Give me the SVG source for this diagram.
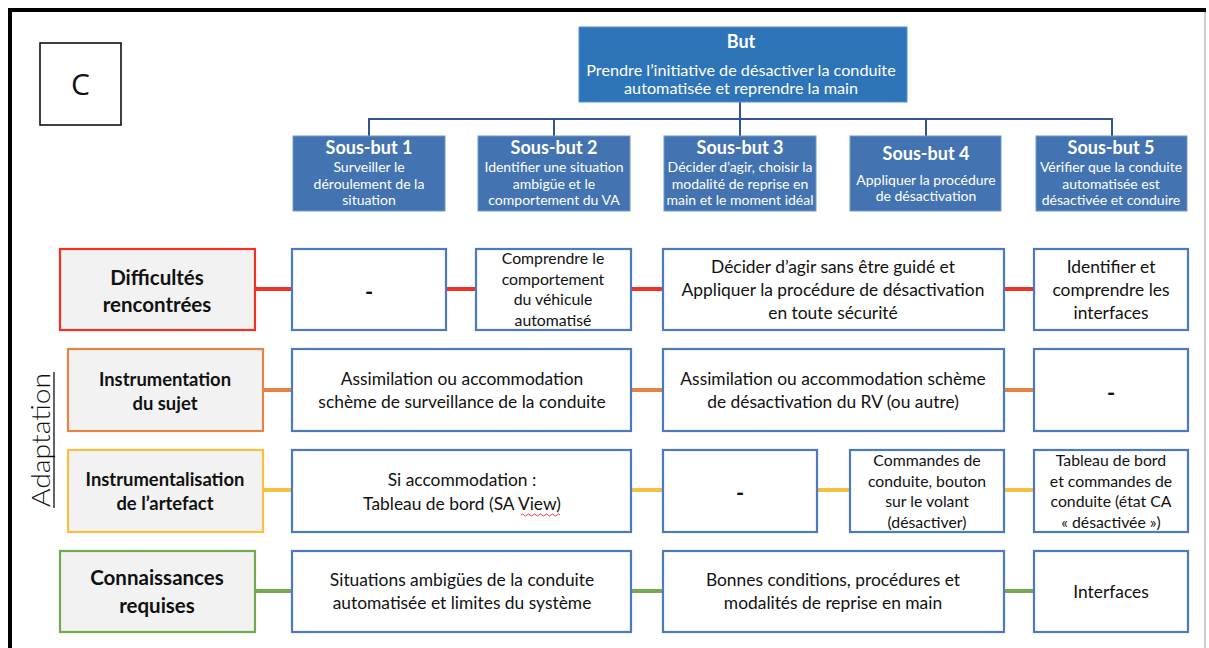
<svg xmlns="http://www.w3.org/2000/svg" width="1209" height="648" viewBox="0 0 1209 648">
<style>
text{font-family:Lato,"Open Sans","Liberation Sans",sans-serif;text-anchor:middle;fill:#111}
.w{fill:#fff}
.b{font-weight:700}
.goal{fill:#2E74B8;stroke:#5B8FCB;stroke-width:1}
.sub{fill:#4374B1;stroke:#6F98CC;stroke-width:1}
.box{fill:#fff;stroke:#4B7BBE;stroke-width:2.2}
.lab{fill:#F2F2F2;stroke-width:2.2}
.t16{font-size:16.2px}
.t15{font-size:17.4px}
.t14{font-size:15.8px}
.t12{font-size:14px}
.hdr{font-size:18px;font-weight:700}
.lb1{font-size:20.5px;font-weight:700}
.lb2{font-size:18.4px;font-weight:700}
.dash{font-size:22px;font-weight:700}
.conn line{stroke-width:4}
</style>
<rect x="0" y="0" width="1209" height="648" fill="#fff"/>
<!-- frame -->
<line x1="10" y1="10" x2="1206" y2="10" stroke="#000" stroke-width="4"/>
<line x1="10" y1="8" x2="10" y2="648" stroke="#000" stroke-width="4"/>
<line x1="1205" y1="12" x2="1205" y2="648" stroke="#BDBDBD" stroke-width="1.5"/>

<g id="label-c">
<rect x="40" y="43" width="81" height="82" fill="#fff" stroke="#111" stroke-width="1.6"/>
<text x="80.5" y="95" style="font-size:30px;font-family:'Open Sans',Lato,sans-serif">C</text>
</g>

<g id="adaptation">
<text transform="translate(50,440) rotate(-90)" style="font-size:26px;font-weight:300" textLength="134" lengthAdjust="spacingAndGlyphs">Adaptation</text>
<line x1="54" y1="372" x2="54" y2="508" stroke="#111" stroke-width="1.3"/>
</g>

<!-- connectors -->
<g id="connectors" fill="none">
<g stroke="#2F5597" stroke-width="2">
<line x1="740" y1="102" x2="740" y2="136"/>
<polyline points="369,136 369,119 1112,119 1112,136"/>
<line x1="554" y1="119" x2="554" y2="136"/>
<line x1="926" y1="119" x2="926" y2="136"/>
</g>
<g class="conn">
<g stroke="#EE3325">
<line x1="255" y1="289" x2="292" y2="289"/>
<line x1="446" y1="289" x2="476" y2="289"/>
<line x1="631" y1="289" x2="663" y2="289"/>
<line x1="1004" y1="289" x2="1034" y2="289"/>
</g>
<g stroke="#E38346">
<line x1="263" y1="390" x2="292" y2="390"/>
<line x1="631" y1="390" x2="663" y2="390"/>
<line x1="1004" y1="390" x2="1034" y2="390"/>
</g>
<g stroke="#F8C040">
<line x1="263" y1="490" x2="292" y2="490"/>
<line x1="631" y1="490" x2="663" y2="490"/>
<line x1="817" y1="490" x2="850" y2="490"/>
<line x1="1004" y1="490" x2="1034" y2="490"/>
</g>
<g stroke="#74AA4E">
<line x1="255" y1="591" x2="292" y2="591"/>
<line x1="631" y1="591" x2="663" y2="591"/>
<line x1="1004" y1="591" x2="1034" y2="591"/>
</g>
</g>
</g>

<!-- goal -->
<g id="but">
<rect class="goal" x="579" y="27" width="328" height="75"/>
<text class="w hdr" x="741" y="48">But</text>
<text class="w t16" x="741" y="76">Prendre l’initiative de désactiver la conduite</text>
<text class="w t16" x="741" y="94">automatisée et reprendre la main</text>
</g>

<g id="sousbut1">
<rect class="sub" x="293" y="136" width="152" height="75"/>
<text class="w hdr" x="369" y="153.5">Sous-but 1</text>
<text class="w t12" x="369" y="172">Surveiller le</text>
<text class="w t12" x="369" y="188.5">déroulement de la</text>
<text class="w t12" x="369" y="205">situation</text>
</g>
<g id="sousbut2">
<rect class="sub" x="478" y="136" width="152" height="75"/>
<text class="w hdr" x="554" y="153.5">Sous-but 2</text>
<text class="w t12" x="554" y="172">Identifier une situation</text>
<text class="w t12" x="554" y="188.5">ambigüe et le</text>
<text class="w t12" x="554" y="205">comportement du VA</text>
</g>
<g id="sousbut3">
<rect class="sub" x="664" y="136" width="152" height="75"/>
<text class="w hdr" x="740" y="153.5">Sous-but 3</text>
<text class="w t12" x="740" y="172">Décider d’agir, choisir la</text>
<text class="w t12" x="740" y="188.5">modalité de reprise en</text>
<text class="w t12" x="740" y="205">main et le moment idéal</text>
</g>
<g id="sousbut4">
<rect class="sub" x="850" y="136" width="151" height="75"/>
<text class="w hdr" x="926" y="159.5">Sous-but 4</text>
<text class="w t12" x="926" y="185">Appliquer la procédure</text>
<text class="w t12" x="926" y="201">de désactivation</text>
</g>
<g id="sousbut5">
<rect class="sub" x="1036" y="136" width="151" height="75"/>
<text class="w hdr" x="1111" y="153.5">Sous-but 5</text>
<text class="w t12" x="1111" y="172">Vérifier que la conduite</text>
<text class="w t12" x="1111" y="188.5">automatisée est</text>
<text class="w t12" x="1111" y="205">désactivée et conduire</text>
</g>

<!-- row 1 -->
<g id="difficultes">
<rect class="lab" x="60" y="249" width="195" height="81" stroke="#EE3325"/>
<text class="lb1" x="157" y="285">Difficultés</text>
<text class="lb1" x="157" y="312">rencontrées</text>
</g>
<g id="d1">
<rect class="box" x="292" y="249" width="154" height="81"/>
<text class="dash" x="369" y="300">-</text>
</g>
<g id="d2">
<rect class="box" x="476" y="249" width="155" height="81"/>
<text class="t14" x="553" y="264">Comprendre le</text>
<text class="t14" x="553" y="285">comportement</text>
<text class="t14" x="553" y="305">du véhicule</text>
<text class="t14" x="553" y="326">automatisé</text>
</g>
<g id="d3">
<rect class="box" x="663" y="249" width="341" height="81"/>
<text class="t15" x="833" y="273">Décider d’agir sans être guidé et</text>
<text class="t15" x="833" y="296">Appliquer la procédure de désactivation</text>
<text class="t15" x="833" y="319">en toute sécurité</text>
</g>
<g id="d4">
<rect class="box" x="1034" y="249" width="154" height="81"/>
<text class="t15" x="1111" y="273">Identifier et</text>
<text class="t15" x="1111" y="296">comprendre les</text>
<text class="t15" x="1111" y="319">interfaces</text>
</g>

<!-- row 2 -->
<g id="instrumentation">
<rect class="lab" x="68" y="349" width="195" height="82" stroke="#E38346"/>
<text class="lb2" x="165" y="386">Instrumentation</text>
<text class="lb2" x="165" y="410">du sujet</text>
</g>
<g id="i1">
<rect class="box" x="292" y="349" width="339" height="82"/>
<text class="t15" x="462" y="385">Assimilation ou accommodation</text>
<text class="t15" x="462" y="408">schème de surveillance de la conduite</text>
</g>
<g id="i2">
<rect class="box" x="663" y="349" width="341" height="82"/>
<text class="t15" x="833" y="385">Assimilation ou accommodation schème</text>
<text class="t15" x="833" y="408">de désactivation du RV (ou autre)</text>
</g>
<g id="i3">
<rect class="box" x="1034" y="349" width="154" height="82"/>
<text class="dash" x="1111" y="401">-</text>
</g>

<!-- row 3 -->
<g id="instrumentalisation">
<rect class="lab" x="68" y="450" width="195" height="82" stroke="#F8C040"/>
<text class="lb2" x="165" y="486">Instrumentalisation</text>
<text class="lb2" x="165" y="510">de l’artefact</text>
</g>
<g id="a1">
<rect class="box" x="292" y="450" width="339" height="82"/>
<text class="t15" x="462" y="486">Si accommodation :</text>
<text class="t15" x="462" y="510">Tableau de bord (SA View)</text>
<path d="M521,515 q1.5,-2 3,0 t3,0 t3,0 t3,0 t3,0 t3,0 t3,0 t3,0 t3,0 t3,0 t3,0 t3,0 t3,0" fill="none" stroke="#E03030" stroke-width="0.9"/>
</g>
<g id="a2">
<rect class="box" x="663" y="450" width="154" height="82"/>
<text class="dash" x="740" y="501">-</text>
</g>
<g id="a3">
<rect class="box" x="850" y="450" width="154" height="82"/>
<text class="t14" x="927" y="466">Commandes de</text>
<text class="t14" x="927" y="487">conduite, bouton</text>
<text class="t14" x="927" y="507">sur le volant</text>
<text class="t14" x="927" y="528">(désactiver)</text>
</g>
<g id="a4">
<rect class="box" x="1034" y="450" width="154" height="82"/>
<text class="t14" x="1111" y="466">Tableau de bord</text>
<text class="t14" x="1111" y="487">et commandes de</text>
<text class="t14" x="1111" y="507">conduite (état CA</text>
<text class="t14" x="1111" y="528">« désactivée »)</text>
</g>

<!-- row 4 -->
<g id="connaissances">
<rect class="lab" x="60" y="551" width="195" height="81" stroke="#74AA4E"/>
<text class="lb1" x="157" y="585">Connaissances</text>
<text class="lb1" x="157" y="613">requises</text>
</g>
<g id="c1">
<rect class="box" x="292" y="551" width="339" height="81"/>
<text class="t15" x="462" y="586">Situations ambigües de la conduite</text>
<text class="t15" x="462" y="609">automatisée et limites du système</text>
</g>
<g id="c2">
<rect class="box" x="663" y="551" width="341" height="81"/>
<text class="t15" x="833" y="586">Bonnes conditions, procédures et</text>
<text class="t15" x="833" y="609">modalités de reprise en main</text>
</g>
<g id="c3">
<rect class="box" x="1034" y="551" width="154" height="81"/>
<text class="t15" x="1111" y="598">Interfaces</text>
</g>
</svg>
